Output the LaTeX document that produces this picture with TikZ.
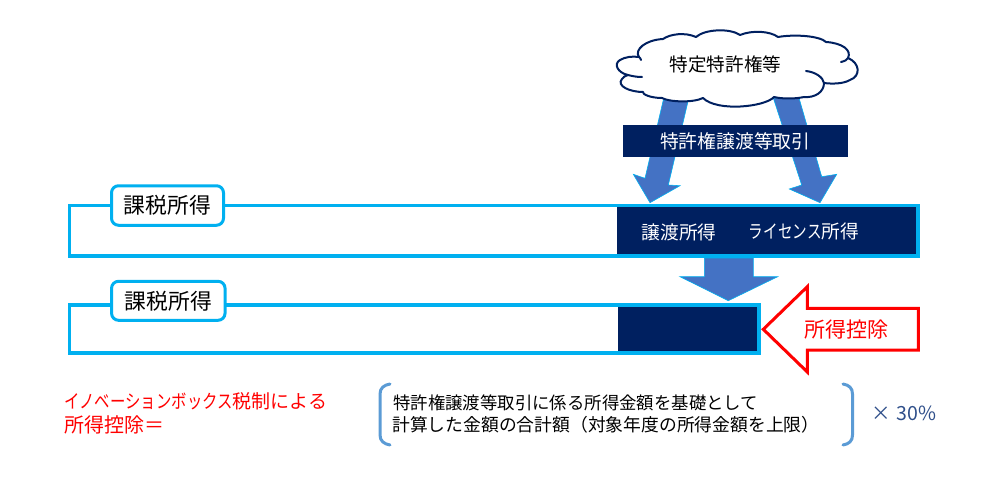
\documentclass[tikz,border=0pt]{standalone}
\usepackage{fontspec}
\setmainfont{Noto Sans CJK JP}
\newfontfamily\latinf{Liberation Sans}
\definecolor{navy}{HTML}{002060}
\definecolor{cyanb}{HTML}{00B0F0}
\definecolor{arrowb}{HTML}{4472C4}
\definecolor{brk}{HTML}{5B9BD5}
\definecolor{slateb}{HTML}{2F4F8A}
\newcommand{\kn}[1]{\scalebox{0.78}[1]{#1}}
\newcommand{\kr}[1]{\scalebox{0.81}[1]{#1}}
\tikzset{
 x=1pt,y=-1pt,
 blockarrow/.style={fill=arrowb,draw=cyanb,line width=0.6pt,line join=miter},
 framebox/.style={draw=cyanb,line width=3.8pt,line join=miter},
 darkfill/.style={fill=navy,draw=none},
 labelbox/.style={draw=cyanb,line width=3pt,rounded corners=7pt,fill=white},
 lbl/.style={inner sep=0pt,anchor=center},
 bracketline/.style={draw=brk,line width=3pt,line cap=round},
 cloudline/.style={draw=navy,line width=2pt,line cap=round,line join=round},
}
\begin{document}
\begin{tikzpicture}
\useasboundingbox (0,0) rectangle (1000,500);
% frames
\draw[framebox] (69.5,205.5) rectangle (918,256);
\draw[framebox] (69.5,305) rectangle (759,353);
\fill[darkfill] (617,207.3) rectangle (916.2,254.2);
\fill[darkfill] (618,306.8) rectangle (757.2,351.2);
% block arrows
\draw[blockarrow] (663.3,100)--(688.3,100)--(668.3,185)--(680,185.7)--(650,202.7)--(633.3,174.3)--(645,178.3)--cycle;
\draw[blockarrow] (773.3,98)--(799,98)--(821.7,176.7)--(836.7,174.3)--(820,202.7)--(789.3,189)--(801.7,185)--cycle;
\draw[blockarrow] (704.3,258)--(753.3,258)--(753.3,276.7)--(777.7,276.7)--(728.3,300.7)--(680,276.7)--(704.3,276.7)--cycle;
% cloud
\path[fill=white,cloudline] (628,75)
 .. controls (618,73) and (613,64) .. (620,60)
 .. controls (625,57) and (632,56) .. (639,57)
 .. controls (634,50) and (645,40) .. (663,39)
 .. controls (670,34) and (685,32) .. (696,37)
 .. controls (705,29) and (730,28) .. (740,35)
 .. controls (752,30) and (770,31) .. (778,37)
 .. controls (795,34) and (820,36) .. (826,42)
 .. controls (842,43) and (852,50) .. (848,58)
 .. controls (860,63) and (861,76) .. (850,80)
 .. controls (843,84) and (832,84) .. (824,83)
 .. controls (824,92) and (815,98) .. (804,97)
 .. controls (795,99) and (782,99) .. (774,97)
 .. controls (765,107) and (717,112) .. (703,98)
 .. controls (693,103) and (669,102) .. (662,98)
 .. controls (650,98) and (642,94) .. (643,92)
 .. controls (630,92) and (616,86) .. (622,79)
 .. controls (623,77) and (625,76) .. (628,75) -- cycle;
\draw[cloudline] (628,75) .. controls (632,76) and (636,77) .. (642,77);
\draw[cloudline] (639,57) .. controls (640,58) and (641,59) .. (641,60);
\draw[cloudline] (824,83) .. controls (823,77) and (815,72) .. (806,71);
\draw[cloudline] (848,58) .. controls (847,60) and (845,61) .. (841,62);
\node[lbl] (cloudtext) at (725.5,64) {\fontsize{18.6pt}{20pt}\selectfont 特定特許権等};
% band
\node[fill=navy,minimum width=224.7pt,minimum height=31.7pt,inner sep=0pt,text=white] (band) at (735.3,141) {\fontsize{18.8pt}{20pt}\selectfont 特許権譲渡等取引};
% dark labels
\node[lbl,text=white] (joto) at (679,232) {\fontsize{18.7pt}{20pt}\selectfont 譲渡所得};
\node[lbl,text=white] (lic) at (804,231) {\fontsize{18.7pt}{20pt}\selectfont \kn{ライセンス}所得};
% label boxes
\node[labelbox,minimum width=112pt,minimum height=39.5pt,inner sep=0pt] (lab1) at (167.5,205.5) {\fontsize{21.8pt}{23pt}\selectfont 課税所得};
\node[labelbox,minimum width=113.5pt,minimum height=39pt,inner sep=0pt] (lab2) at (168.3,300.8) {\fontsize{21.8pt}{23pt}\selectfont 課税所得};
% red arrow
\path[fill=white,draw=red,line width=3pt,line join=miter,miter limit=10] (763.3,329.3)--(807.3,286.7)--(807.3,308.3)--(918.3,308.3)--(918.3,350)--(807.3,350)--(807.3,372)--cycle;
\node[lbl,text=red] (koujo) at (846.5,330) {\fontsize{21pt}{23pt}\selectfont 所得控除};
% formula
\node[inner sep=0pt,anchor=west,text=red] (red1) at (64,401) {\fontsize{19pt}{21pt}\selectfont \kr{イノベーションボックス}税制による};
\node[inner sep=0pt,anchor=west,text=red] (red2) at (64,425) {\fontsize{20pt}{22pt}\selectfont 所得控除＝};
\node[inner sep=0pt,anchor=west] (l1) at (393,403) {\fontsize{17.4pt}{19pt}\selectfont 特許権譲渡等取引に係る所得金額を基礎として};
\node[inner sep=0pt,anchor=west] (l2) at (392,425) {\fontsize{17.8pt}{19pt}\selectfont 計算した金額の合計額（対象年度の所得金額を上限）};
\draw[bracketline] (390,384) .. controls (384,385) and (380,388) .. (380,394) -- (380,435) .. controls (380,441) and (384,444) .. (390,445);
\draw[bracketline] (843,384) .. controls (849,385) and (852.5,388) .. (852.5,394) -- (852.5,435) .. controls (852.5,441) and (849,444) .. (843,445);
\node[inner sep=0pt,anchor=west,text=slateb] (pct) at (871,413) {\fontsize{19.5pt}{21pt}\selectfont ×\hspace{6pt}30\%};
\end{tikzpicture}
\end{document}
